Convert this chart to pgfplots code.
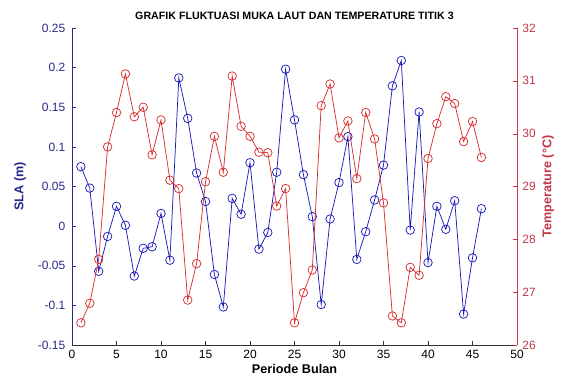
\documentclass[border=0pt]{standalone}
\usepackage{pgfplots}
\pgfplotsset{compat=1.18}
\usepackage{fontspec}
\setmainfont{Liberation Sans}
\definecolor{slaline}{RGB}{25,25,185}
\definecolor{slaaxis}{RGB}{40,40,140}
\definecolor{templine}{RGB}{215,45,45}
\definecolor{tempaxis}{RGB}{195,55,70}
\pgfplotstableread{
x sla temp
1 0.075 26.42
2 0.048 26.79
3 -0.057 27.62
4 -0.013 29.75
5 0.025 30.40
6 0.001 31.13
7 -0.063 30.32
8 -0.028 30.50
9 -0.026 29.60
10 0.016 30.26
11 -0.043 29.12
12 0.187 28.96
13 0.136 26.85
14 0.067 27.54
15 0.031 29.09
16 -0.061 29.95
17 -0.102 29.27
18 0.035 31.09
19 0.015 30.14
20 0.080 29.95
21 -0.029 29.65
22 -0.008 29.64
23 0.068 28.63
24 0.198 28.96
25 0.134 26.42
26 0.065 26.99
27 0.012 27.42
28 -0.099 30.53
29 0.009 30.94
30 0.055 29.92
31 0.113 30.24
32 -0.042 29.15
33 -0.007 30.40
34 0.033 29.90
35 0.077 28.69
36 0.177 26.55
37 0.209 26.42
38 -0.005 27.47
39 0.144 27.32
40 -0.046 29.53
41 0.025 30.19
42 -0.004 30.70
43 0.032 30.57
44 -0.111 29.85
45 -0.040 30.23
46 0.022 29.55
}\datatable
\begin{document}
\begin{tikzpicture}
\pgfplotsset{every axis/.append style={
  font=\fontsize{9}{10}\selectfont,
  scale only axis, width=333.75pt, height=237.75pt,
  xmin=0, xmax=50,
  /pgf/number format/assume math mode=true,
  tick align=inside,
  major tick length=3pt,
}}
\begin{axis}[
  name=ax,
  axis x line*=bottom, axis y line*=left,
  ymin=-0.15, ymax=0.25,
  ytick={-0.15,-0.1,-0.05,0,0.05,0.1,0.15,0.2,0.25},
  yticklabels={-0.15,-0.1,-0.05,0,0.05,0.1,0.15,0.2,0.25},
  xtick={0,5,...,50},
  y axis line style={slaaxis},
  y tick style={slaaxis},
  yticklabel style={text=slaaxis, xshift=-1.5pt},
  x axis line style={black!80},
  x tick style={black!80},
  xticklabel style={anchor=base, yshift=-10.5pt, inner sep=0pt},
  ylabel={\textbf{SLA (m)}},
  ylabel style={text=slaaxis, font=\fontsize{9.5}{10}\selectfont, at={(axis description cs:0,0.5)}, anchor=center, yshift=39pt},
  xlabel={\textbf{Periode Bulan}},
  xlabel style={font=\fontsize{9.5}{10}\selectfont, at={(axis description cs:0.5,0)}, anchor=base, yshift=-21.75pt, inner sep=0pt},
  title={\textbf{GRAFIK FLUKTUASI MUKA LAUT DAN TEMPERATURE TITIK 3}},
  title style={font=\fontsize{8}{9}\selectfont, at={(axis description cs:0.5,1)}, anchor=base, yshift=0.5pt, inner sep=0pt},
]
\addplot[slaline, line width=0.55pt, mark=o, mark size=3.2pt, mark options={line width=0.55pt}] table[x=x,y=sla]{\datatable};
\end{axis}
\begin{axis}[
  axis x line=none, axis y line*=right,
  ymin=26, ymax=32,
  ytick={26,27,...,32},
  y axis line style={tempaxis},
  y tick style={tempaxis},
  yticklabel style={text=tempaxis, xshift=0.5pt},
  ylabel={\textbf{Temperature (\textdegree C)}},
  ylabel style={text=tempaxis, font=\fontsize{9.5}{10}\selectfont, at={(axis description cs:1,0.5)}, anchor=center, yshift=-23.25pt},
]
\addplot[templine, line width=0.55pt, mark=o, mark size=3.2pt, mark options={line width=0.55pt}] table[x=x,y=temp]{\datatable};
\end{axis}
\pgfresetboundingbox
\path (ax.south west) ++(-54pt,-26.25pt) coordinate (bbl);
\path (ax.north east) ++(33.75pt,21pt) coordinate (bbr);
\useasboundingbox (bbl) rectangle (bbr);
\end{tikzpicture}
\end{document}
